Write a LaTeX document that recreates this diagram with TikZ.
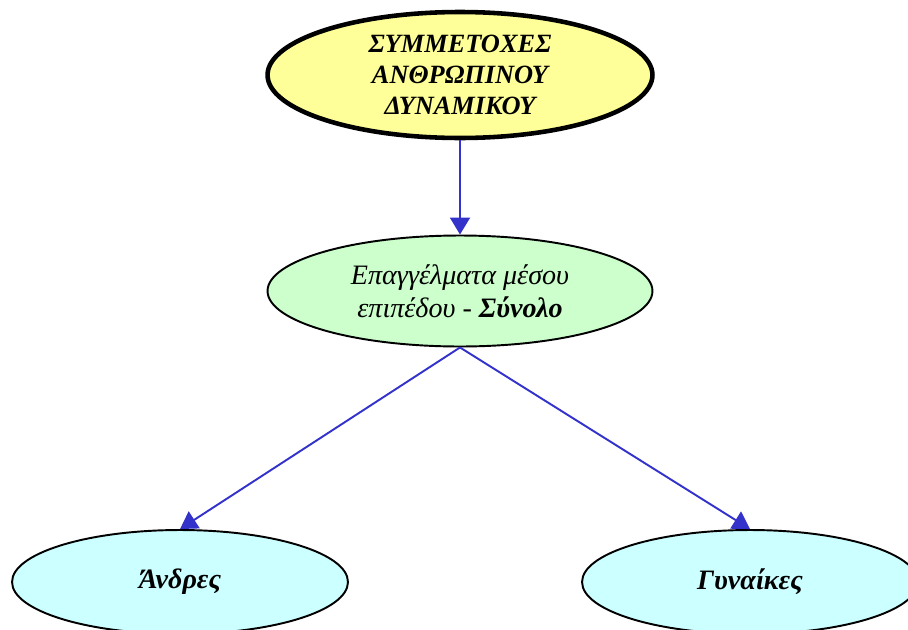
\documentclass[tikz,border=0pt]{standalone}
\usepackage{fontspec}
\setmainfont{Liberation Serif}
\usepackage{xcolor}
\usetikzlibrary{arrows.meta, positioning, shapes.geometric}
\definecolor{topfill}{HTML}{FFFF99}
\definecolor{midfill}{HTML}{CCFFCC}
\definecolor{leaffill}{HTML}{CCFFFF}
\definecolor{edgeblue}{HTML}{3333CC}

\begin{document}
\begin{tikzpicture}[
    x=0.02cm, y=-0.02cm,
    >={Triangle[length=0.34cm, width=0.4cm]},
    blob/.style={draw, ellipse, inner sep=0pt, fill=#1, align=center, line width=1.1pt},
    link/.style={->, edgeblue, line width=1.1pt},
]
    \useasboundingbox (0,0) rectangle (908,629);

    % Root
    \node[blob=topfill, line width=2.6pt, minimum width=7.7cm, minimum height=2.52cm,
          font=\fontsize{15}{17.5}\selectfont\bfseries\itshape] (root) at (460,75)
          {ΣΥΜΜΕΤΟΧΕΣ\\ΑΝΘΡΩΠΙΝΟΥ\\ΔΥΝΑΜΙΚΟΥ};

    % Total
    \node[blob=midfill, minimum width=7.7cm, minimum height=2.22cm,
          font=\fontsize{16}{19}\selectfont\itshape] (total) at (460,291)
          {Επαγγέλματα μέσου\\επιπέδου - \textbf{Σύνολο}};

    % Men / women
    \node[blob=leaffill, minimum width=6.72cm, minimum height=2.08cm,
          font=\fontsize{16}{19}\selectfont\bfseries\itshape] (men) at (180,582) {Άνδρες};
    \node[blob=leaffill, minimum width=6.72cm, minimum height=2.08cm,
          font=\fontsize{16}{19}\selectfont\bfseries\itshape] (women) at (750,582) {Γυναίκες};

    % Connections
    \draw[link] (root.south) -- (total.north);
    \draw[link] (total.south) -- (men.north);
    \draw[link] (total.south) -- (women.north);
\end{tikzpicture}
\end{document}
